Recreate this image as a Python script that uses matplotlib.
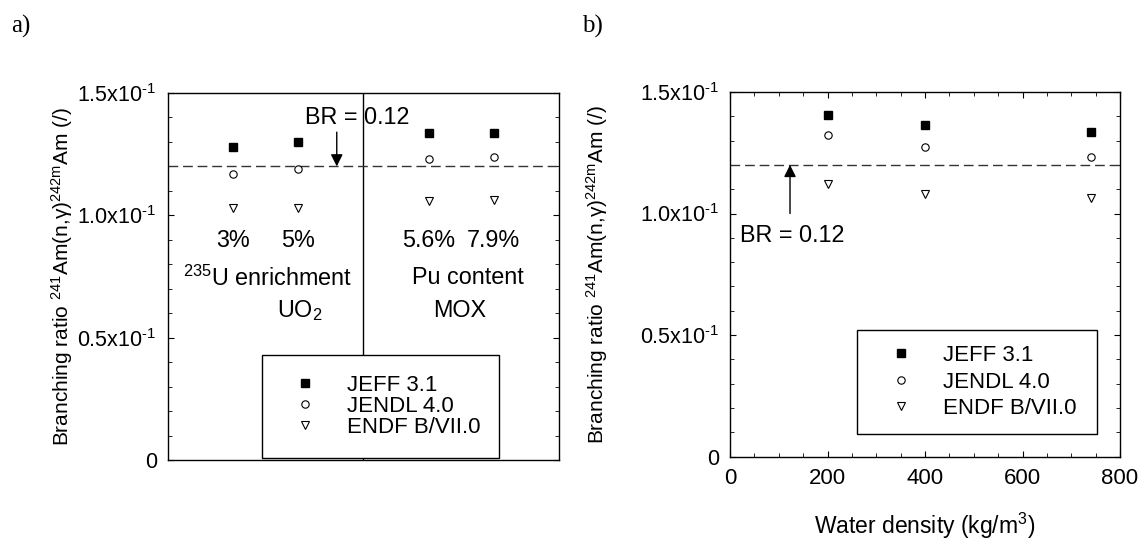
import numpy as np
import matplotlib
matplotlib.use("Agg")
import matplotlib.pyplot as plt
from matplotlib.ticker import MultipleLocator, FixedLocator

plt.rcParams['font.family'] = ['Liberation Sans', 'DejaVu Sans']
plt.rcParams['mathtext.fontset'] = 'custom'
plt.rcParams['mathtext.rm'] = 'Liberation Sans'
plt.rcParams['mathtext.default'] = 'regular'

# data - panel a (fuel type / enrichment)
pos_a = [1, 2, 4, 5]
pct_labels = ['3%', '5%', '5.6%', '7.9%']
jeff_a = [0.128, 0.130, 0.1335, 0.1335]
jendl_a = [0.1168, 0.1188, 0.1229, 0.124]
endf_a = [0.1029, 0.1031, 0.106, 0.1063]

# data - panel b (water density)
density = [200, 400, 740]
jeff_b = [0.1405, 0.1364, 0.1334]
jendl_b = [0.1325, 0.1275, 0.1233]
endf_b = [0.112, 0.108, 0.1062]

br = 0.12
series_names = ['JEFF 3.1', 'JENDL 4.0', 'ENDF B/VII.0']
ytick_vals = [0, 0.05, 0.10, 0.15]
# U+2010 hyphen in the exponent (reference shows a short hyphen, not a minus)
ytick_labels = ['0', '0.5x10$^{\u20101}$', '1.0x10$^{\u20101}$', '1.5x10$^{\u20101}$']

FS_TICK = 15.5
FS_TXT = 16.8
FS_LEG = 16
FS_LAB = 15
ylab = 'Branching ratio $^{241}$Am(n,γ)$^{242m}$Am (/)'

fig = plt.figure(figsize=(11.45, 5.44), dpi=100)
ax1 = fig.add_axes([0.1467, 0.1544, 0.3415, 0.6746])
ax2 = fig.add_axes([0.6376, 0.1608, 0.3406, 0.6701])


def style_y(ax):
    ax.set_ylim(0, 0.15)
    ax.yaxis.set_major_locator(FixedLocator(ytick_vals))
    ax.set_yticklabels(ytick_labels, fontsize=FS_TICK)
    ax.yaxis.set_minor_locator(MultipleLocator(0.01))
    ax.tick_params(axis='y', which='both', direction='in', left=True, right=True, pad=8)
    ax.tick_params(axis='y', which='major', length=4)
    ax.tick_params(axis='y', which='minor', length=3)
    for s in ax.spines.values():
        s.set_linewidth(1.0)


def plot_series(ax, x, a, b, c):
    h1, = ax.plot(x, a, ls='none', marker='s', ms=5.8, mfc='black', mec='black')
    h2, = ax.plot(x, b, ls='none', marker='o', ms=5.3, mfc='white', mec='black', mew=0.8)
    h3, = ax.plot(x, c, ls='none', marker='v', ms=5.9, mfc='white', mec='black', mew=0.8)
    return [h1, h2, h3]


# ---- panel a
style_y(ax1)
ax1.set_xlim(0, 6)
ax1.set_xticks([])
ax1.axvline(3, color='black', lw=1.0)
ax1.axhline(br, color='#333333', lw=1.0, ls=(0, (7, 3.5)))
hs = plot_series(ax1, pos_a, jeff_a, jendl_a, endf_a)
for p, t in zip(pos_a, pct_labels):
    ax1.text(p, 0.0899, t, fontsize=FS_TXT, ha='center', va='center')
ax1.text(1.53, 0.0744, '$^{235}$U enrichment', fontsize=FS_TXT, ha='center', va='center')
ax1.text(2.03, 0.061, 'UO$_2$', fontsize=FS_TXT, ha='center', va='center')
ax1.text(4.6, 0.0744, 'Pu content', fontsize=FS_TXT, ha='center', va='center')
ax1.text(4.48, 0.061, 'MOX', fontsize=FS_TXT, ha='center', va='center')
ax1.annotate('', xy=(2.59, br), xytext=(2.59, 0.134),
             arrowprops=dict(arrowstyle='-|>', color='black', lw=1.0,
                             mutation_scale=18, shrinkA=0, shrinkB=0))
ax1.text(2.9, 0.1398, 'BR = 0.12', fontsize=FS_TXT, ha='center', va='center')
ax1.set_ylabel(ylab, fontsize=FS_LAB)
ax1.yaxis.set_label_coords(-0.238, 0.5)
leg1 = ax1.legend(hs, series_names, loc='lower left', bbox_to_anchor=(0.24, 0.005, 0.607, 0.28),
                  mode='expand', fontsize=FS_LEG, frameon=True, fancybox=False, framealpha=1,
                  edgecolor='black', handlelength=2.07, handletextpad=0.86, labelspacing=0.0,
                  borderpad=0.9, borderaxespad=0)
leg1.get_frame().set_linewidth(1.0)

# ---- panel b
style_y(ax2)
ax2.set_xlim(0, 800)
ax2.xaxis.set_major_locator(MultipleLocator(200))
ax2.xaxis.set_minor_locator(MultipleLocator(50))
ax2.tick_params(axis='x', which='both', direction='in', top=True, bottom=True, labelsize=16, pad=8)
ax2.tick_params(axis='x', which='major', length=4)
ax2.tick_params(axis='x', which='minor', length=3)
ax2.axhline(br, color='#333333', lw=1.0, ls=(0, (7, 3.5)))
hs2 = plot_series(ax2, density, jeff_b, jendl_b, endf_b)
ax2.annotate('', xy=(123, br), xytext=(123, 0.100),
             arrowprops=dict(arrowstyle='-|>', color='black', lw=1.0,
                             mutation_scale=18, shrinkA=0, shrinkB=0))
ax2.text(20.5, 0.091, 'BR = 0.12', fontsize=FS_TXT, ha='left', va='center')
ax2.set_ylabel(ylab, fontsize=FS_LAB)
ax2.yaxis.set_label_coords(-0.308, 0.5)
ax2.set_xlabel('Water density (kg/m$^3$)', fontsize=16.5)
ax2.xaxis.set_label_coords(0.5, -0.148)
leg2 = ax2.legend(hs2, series_names, loc='lower left', bbox_to_anchor=(0.326, 0.062, 0.615, 0.28),
                  mode='expand', fontsize=FS_LEG, frameon=True, fancybox=False, framealpha=1,
                  edgecolor='black', handlelength=2.61, handletextpad=0.59, labelspacing=0.25,
                  borderpad=0.66, borderaxespad=0)
leg2.get_frame().set_linewidth(1.0)

fig.text(21 / 1145, 1 - 26 / 544, 'a)', fontsize=18, family='Liberation Serif', ha='center', va='center')
fig.text(592 / 1145, 1 - 26 / 544, 'b)', fontsize=18, family='Liberation Serif', ha='center', va='center')

fig.savefig('out.png', dpi=100)
